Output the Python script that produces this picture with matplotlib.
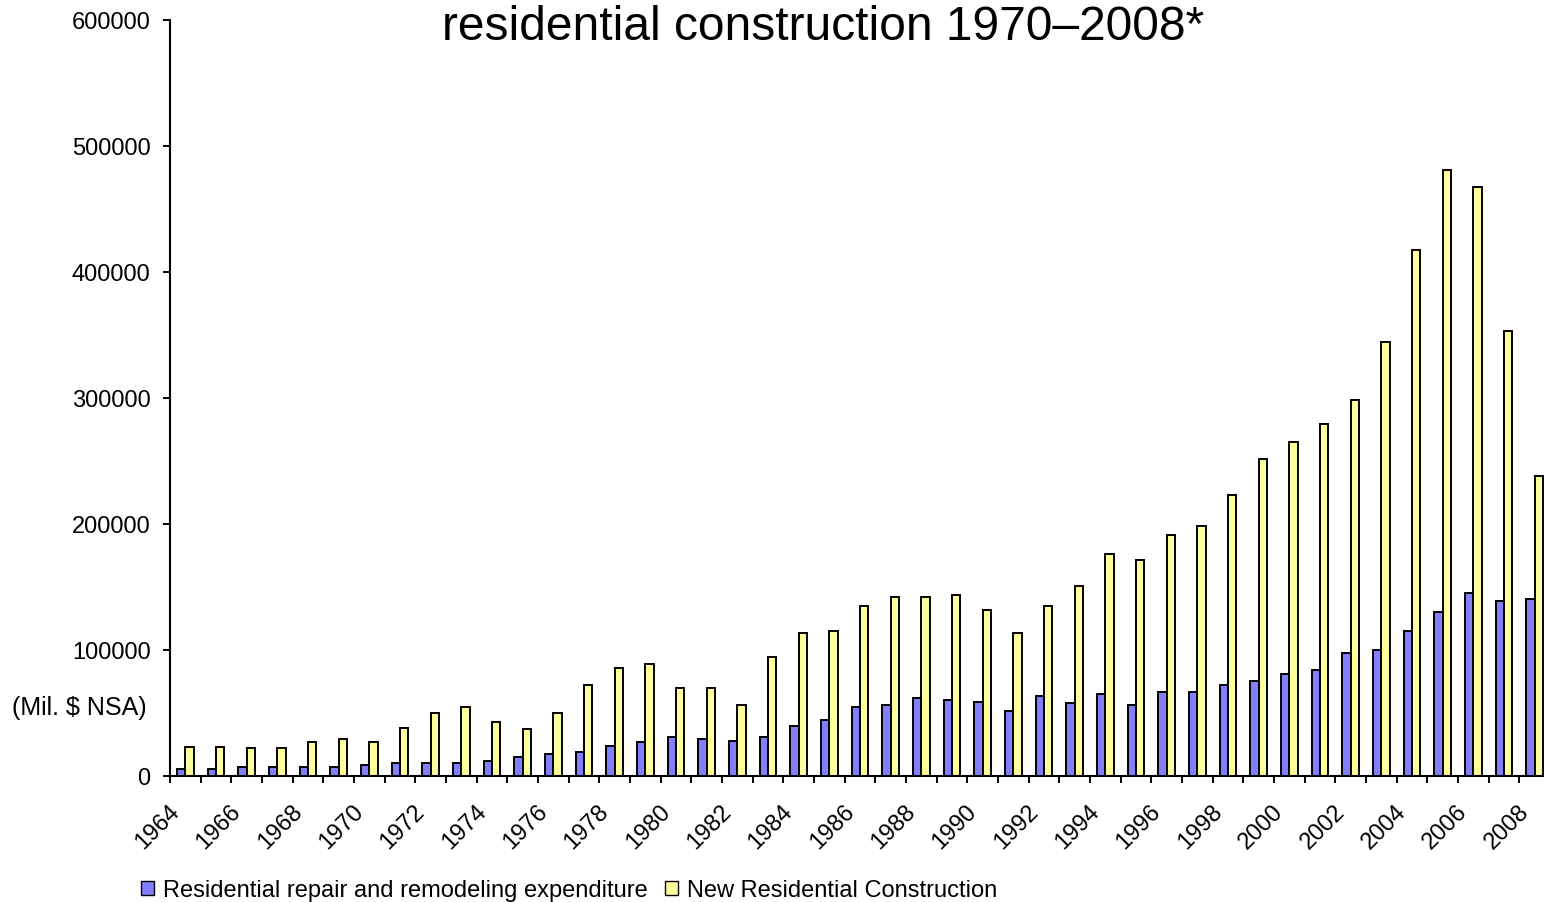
import matplotlib
matplotlib.use("Agg")
import matplotlib.pyplot as plt
from matplotlib.patches import Patch
import numpy as np

plt.rcParams["font.family"] = ["Liberation Sans", "DejaVu Sans"]

# annual values, Mil. $ NSA
years = np.arange(1964, 2009)
repair = [5800, 5800, 7400, 7400, 7400, 7400, 8700, 10300, 10300, 10300,
          11900, 14800, 17700, 19300, 23500, 26700, 31000, 29600, 28000, 31000,
          39700, 44500, 54800, 56100, 61900, 60600, 59000, 51600, 63500, 57700,
          65100, 56100, 66400, 66400, 72500, 75100, 81200, 84200, 97400, 100300,
          115200, 129800, 145000, 138900, 140200]
new_res = [23300, 23300, 22200, 22200, 26700, 29600, 26700, 38400, 50300, 54800,
           42900, 37000, 50300, 72500, 85700, 88600, 69600, 69600, 56100, 94700,
           113800, 115400, 134700, 142100, 142100, 143400, 131800, 113800, 134700, 150800,
           176200, 171700, 191000, 198100, 223400, 251500, 264800, 279300, 298800, 344700,
           417300, 481300, 467700, 353500, 237900]
y_ticks = [0, 100000, 200000, 300000, 400000, 500000, 600000]

BLUE = "#8080ff"
YELLOW = "#ffff99"
W, H = 1544, 903

fig = plt.figure(figsize=(W / 100, H / 100), dpi=100)
ax = fig.add_axes([170 / W, 126 / H, 1380 / W, 756 / H])

x = np.arange(len(years))
bw = 0.272
ax.bar(x - bw / 2, repair, bw, color=BLUE, edgecolor="black", linewidth=1.4)
ax.bar(x + bw / 2, new_res, bw, color=YELLOW, edgecolor="black", linewidth=1.4)

ax.set_xlim(-0.5, len(years) - 0.5)
ax.set_ylim(0, 600000)
ax.set_yticks(y_ticks)
ax.set_yticklabels([str(v) for v in y_ticks], fontsize=17)
ax.tick_params(axis="y", direction="out", length=5, width=1.4, pad=9)

# tick marks between categories, labels on every second year
ax.set_xticks(np.arange(len(years) + 1) - 0.5, minor=True)
ax.set_xticks(x[::2] - 0.3)
ax.set_xticklabels([str(y) for y in years[::2]], fontsize=17,
                   rotation=45, ha="right", va="center", rotation_mode="anchor")
ax.tick_params(axis="x", which="minor", direction="out", length=5, width=1.4)
ax.tick_params(axis="x", which="major", length=0, pad=23)

for side in ["top", "right"]:
    ax.spines[side].set_visible(False)
for side in ["left", "bottom"]:
    ax.spines[side].set_linewidth(1.5)

fig.text(823 / W, 1 - 27 / H, "residential construction 1970\u20132008*",
         fontsize=34.5, ha="center", va="center")
fig.text(12 / W, 1 - 708 / H, "(Mil. $ NSA)", fontsize=18, ha="left", va="center")

handles = [Patch(facecolor=BLUE, edgecolor="black", linewidth=1.0),
           Patch(facecolor=YELLOW, edgecolor="black", linewidth=1.0)]
fig.legend(handles, ["Residential repair and remodeling expenditure",
                     "New Residential Construction"],
           loc="center left", bbox_to_anchor=(141 / W, 1 - 891 / H), ncol=2,
           frameon=False, fontsize=17, handlelength=0.55, handleheight=0.55,
           handletextpad=0.4, columnspacing=0.7, borderpad=0, borderaxespad=0)

fig.savefig("out.png", dpi=100)
